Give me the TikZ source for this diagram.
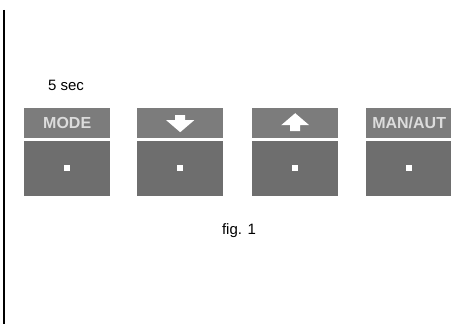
\documentclass[tikz,border=0pt]{standalone}
\usepackage{fontspec}
\setmainfont{Liberation Sans}
\usetikzlibrary{positioning}
\definecolor{keygrey}{RGB}{124,124,124}
\definecolor{bodygrey}{RGB}{110,110,110}
\definecolor{keytext}{RGB}{220,220,220}
\tikzset{keytop/.style={fill=keygrey, minimum width=86pt, minimum height=30pt, inner sep=0pt, anchor=north west, text=keytext, font=\bfseries\fontsize{16}{16}\selectfont}}
\tikzset{keybody/.style={fill=bodygrey, minimum width=86pt, minimum height=55pt, inner sep=0pt}}
\tikzset{keydot/.style={fill=white, minimum size=6pt, inner sep=0pt}}

\begin{document}
\begin{tikzpicture}[x=1pt, y=-1pt]
      \useasboundingbox (0, 0) rectangle (451, 331);
      % margin line
      \draw[line width=1.5pt] (4, 10) -- (4, 324);
      % caption
      \node (time) at (66, 85) {\fontsize{15}{15}\selectfont 5 sec};
      \node (fig) at (239, 231) {\fontsize{15}{15}\selectfont fig. 1};
      % keys
      \node[keytop] (mode) at (24, 108) {MODE};
      \node[keytop] (down) at (137, 108) {};
      \node[keytop] (up) at (252, 108) {};
      \node[keytop] (manaut) at (366, 108) {MAN/AUT};
      \node[keybody, below=2pt of mode] (modebody) {};
      \node[keybody, below=2pt of down] (downbody) {};
      \node[keybody, below=2pt of up] (upbody) {};
      \node[keybody, below=2pt of manaut] (manautbody) {};
      % dots
      \node[keydot] (modedot) at (modebody) {};
      \node[keydot] (downdot) at (downbody) {};
      \node[keydot] (updot) at (upbody) {};
      \node[keydot] (manautdot) at (manautbody) {};
      % arrows
      \fill[white, shift={(down.center)}] (-5, -8) -- (5, -8) -- (5, -3) -- (14, -3) -- (0, 9) -- (-14, -3) -- (-5, -3) -- cycle;
      \fill[white, shift={(up.center)}] (-5, 8) -- (5, 8) -- (5, 2) -- (14, 2) -- (0, -10) -- (-14, 2) -- (-5, 2) -- cycle;
    \end{tikzpicture}
\end{document}
